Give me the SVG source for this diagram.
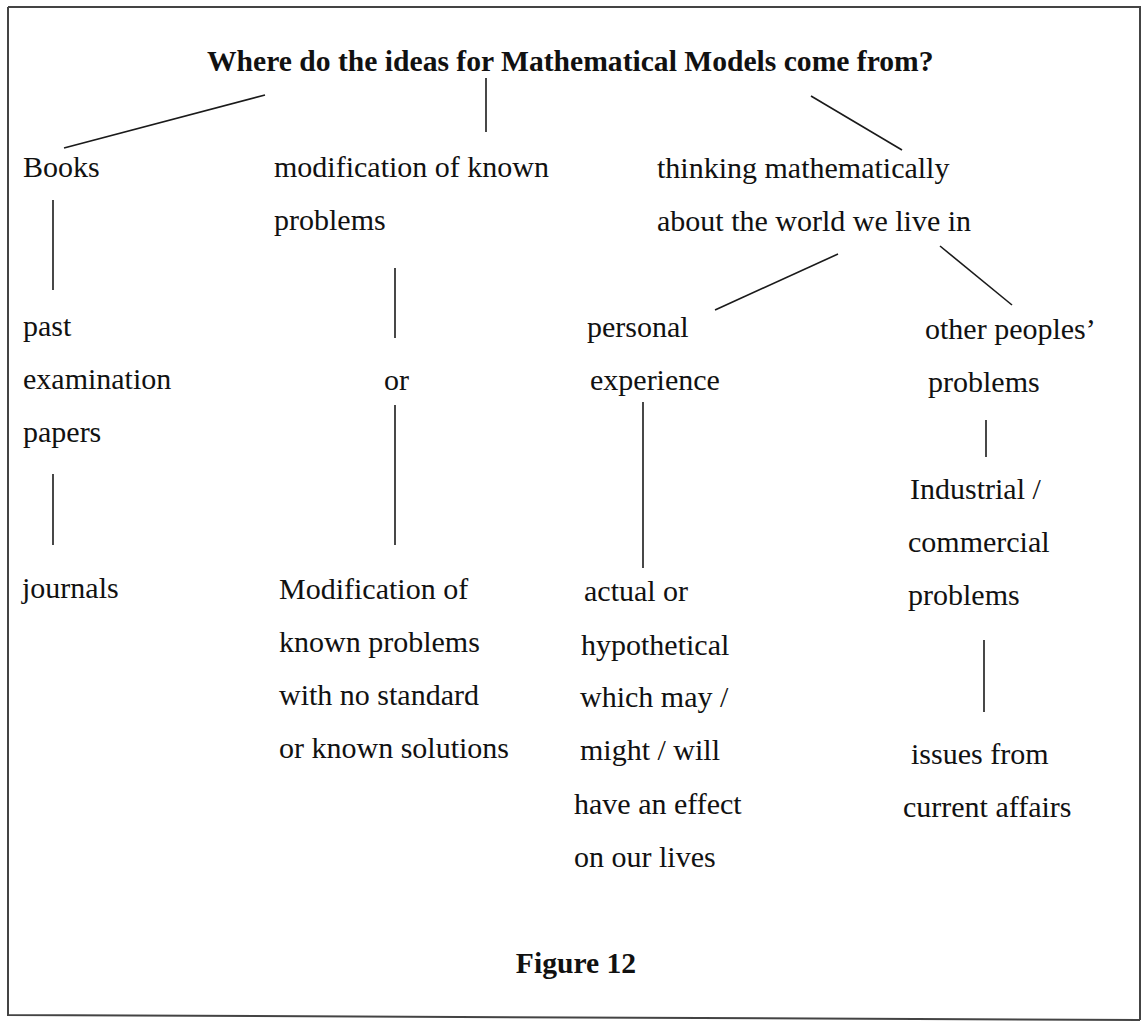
<svg xmlns="http://www.w3.org/2000/svg" width="1142" height="1022" viewBox="0 0 1142 1022">
<style>
text{font-family:"Liberation Serif","Times New Roman",serif;font-size:30px;fill:#111}
.b{font-weight:bold;font-size:29.6px}
.c line{stroke:#1a1a1a;stroke-width:1.6}
.frame{fill:none;stroke:#444;stroke-width:2}
</style>
<rect width="1142" height="1022" fill="#fff"/>
<path class="frame" d="M8,7 L1140,7 L1140,1020 M8,7 L8,1015 L1140,1020"/>
<g id="title"><text class="b" x="207" y="71">Where do the ideas for Mathematical Models come from?</text></g>
<g id="books"><text x="23" y="177">Books</text></g>
<g id="modification"><text x="274" y="177">modification of known</text><text x="274" y="230">problems</text></g>
<g id="thinking"><text x="657" y="178">thinking mathematically</text><text x="657" y="231">about the world we live in</text></g>
<g id="past"><text x="23" y="336">past</text><text x="23" y="389">examination</text><text x="23" y="442">papers</text></g>
<g id="journals"><text x="22" y="598">journals</text></g>
<g id="or"><text x="384" y="390">or</text></g>
<g id="modification2"><text x="279" y="599">Modification of</text><text x="279" y="652">known problems</text><text x="279" y="705">with no standard</text><text x="279" y="758">or known solutions</text></g>
<g id="personal"><text x="587" y="337">personal</text><text x="590" y="390">experience</text></g>
<g id="actual"><text x="584" y="601">actual or</text><text x="581" y="655">hypothetical</text><text x="580" y="707">which may /</text><text x="580" y="760">might / will</text><text x="574" y="814">have an effect</text><text x="574" y="867">on our lives</text></g>
<g id="other"><text x="925" y="339">other peoples’</text><text x="928" y="392">problems</text></g>
<g id="industrial"><text x="910" y="499">Industrial /</text><text x="908" y="552">commercial</text><text x="908" y="605">problems</text></g>
<g id="issues"><text x="911" y="764">issues from</text><text x="903" y="817">current affairs</text></g>
<g id="caption"><text class="b" x="576" y="973" text-anchor="middle">Figure 12</text></g>
<g id="connectors" class="c">
<line x1="265" y1="95" x2="64" y2="148"/>
<line x1="486" y1="78" x2="486" y2="132"/>
<line x1="811" y1="96" x2="902" y2="150"/>
<line x1="53" y1="200" x2="53" y2="290"/>
<line x1="53" y1="474" x2="53" y2="545"/>
<line x1="395" y1="268" x2="395" y2="338"/>
<line x1="395" y1="405" x2="395" y2="545"/>
<line x1="838" y1="254" x2="715" y2="310"/>
<line x1="940" y1="246" x2="1012" y2="305"/>
<line x1="643" y1="402" x2="643" y2="568"/>
<line x1="986" y1="420" x2="986" y2="457"/>
<line x1="984" y1="640" x2="984" y2="712"/>
</g>
</svg>
